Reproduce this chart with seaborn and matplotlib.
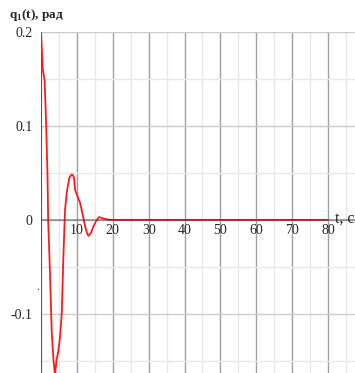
import matplotlib
matplotlib.use('Agg')
import matplotlib.pyplot as plt
import seaborn as sb
import pandas as pd
from matplotlib.ticker import MultipleLocator

# q1(t)
t = [0, 0.5, 1.0, 1.4, 1.8, 2.0, 2.5, 3.0, 3.5, 3.9, 4.3, 4.8, 5.3, 5.8, 6.2, 6.7,
     7.2, 7.9, 8.4, 8.8, 9.2, 9.5, 10.2, 10.9, 11.6, 12.3, 12.8, 13.2, 13.9, 14.6,
     15.4, 16.2, 17.0, 17.8, 19.2, 30, 40, 50, 60, 70, 80]
q = [0.2, 0.16, 0.149, 0.106, 0.05, 0.0, -0.056, -0.12, -0.15, -0.165, -0.15, -0.14,
     -0.125, -0.099, -0.043, 0.011, 0.03, 0.045, 0.048, 0.048, 0.045, 0.032, 0.025,
     0.018, 0.006, -0.007, -0.014, -0.017, -0.014, -0.007, -0.001, 0.003, 0.002,
     0.001, 0.0, 0.0, 0.0, 0.0, 0.0, 0.0, 0.0]
x_ticks = [10, 20, 30, 40, 50, 60, 70, 80]
y_ticks = [-0.1, 0, 0.1, 0.2]
y_labels = ['-0.1', '0', '0.1', '0.2']

df = pd.DataFrame({'t': t, 'q': q})

sb.set_style('white')
plt.rcParams['font.family'] = ['Liberation Serif', 'DejaVu Serif']
plt.rcParams['mathtext.fontset'] = 'custom'
plt.rcParams['mathtext.rm'] = 'Liberation Serif'
plt.rcParams['mathtext.bf'] = 'Liberation Serif:bold'

fig = plt.figure(figsize=(3.55, 3.73), dpi=100)
ax = fig.add_axes([41 / 355, 0, 1 - 41 / 355, 341 / 373])

ax.set_xlim(0, 87.5)
ax.set_ylim(-0.163, 0.2)

ax.xaxis.set_minor_locator(MultipleLocator(5))
ax.yaxis.set_minor_locator(MultipleLocator(0.05))
ax.grid(which='minor', color='#e8e8e8', lw=1)
ax.grid(which='major', axis='x', color='#a0a0a0', lw=1)
ax.grid(which='major', axis='y', color='#cccccc', lw=1)
ax.set_axisbelow(True)

sb.lineplot(data=df, x='t', y='q', color='#ff1a1a', lw=1.3, ax=ax, zorder=3)

ax.axhline(0, color='#333333', lw=1.2, alpha=0.5, zorder=4)
ax.axvline(0, color='#555555', lw=1.5, zorder=2)

for s in ['top', 'right', 'left', 'bottom']:
    ax.spines[s].set_visible(False)
ax.spines['bottom'].set_position(('data', 0))

ax.set_xticks(x_ticks)
ax.set_xticklabels([str(v) for v in x_ticks], fontsize=10)
ax.set_yticks(y_ticks)
ax.set_yticklabels(y_labels, fontsize=10)
ax.tick_params(axis='x', length=0, pad=3)
ax.tick_params(axis='y', length=0, pad=6)
ax.set_xlabel('')
ax.set_ylabel('')

fig.text(9 / 355, 1 - 15 / 373, r'q$_\mathbf{1}$(t), рад', fontsize=9.5,
         fontweight='bold', va='center', ha='left')
fig.text(335 / 355, 1 - 219 / 373, 't, с', fontsize=11.5,
         va='center', ha='left')
fig.text(36 / 355, 1 - 288 / 373, '.', fontsize=8, va='center', ha='left')

fig.savefig('out.png', dpi=100)
